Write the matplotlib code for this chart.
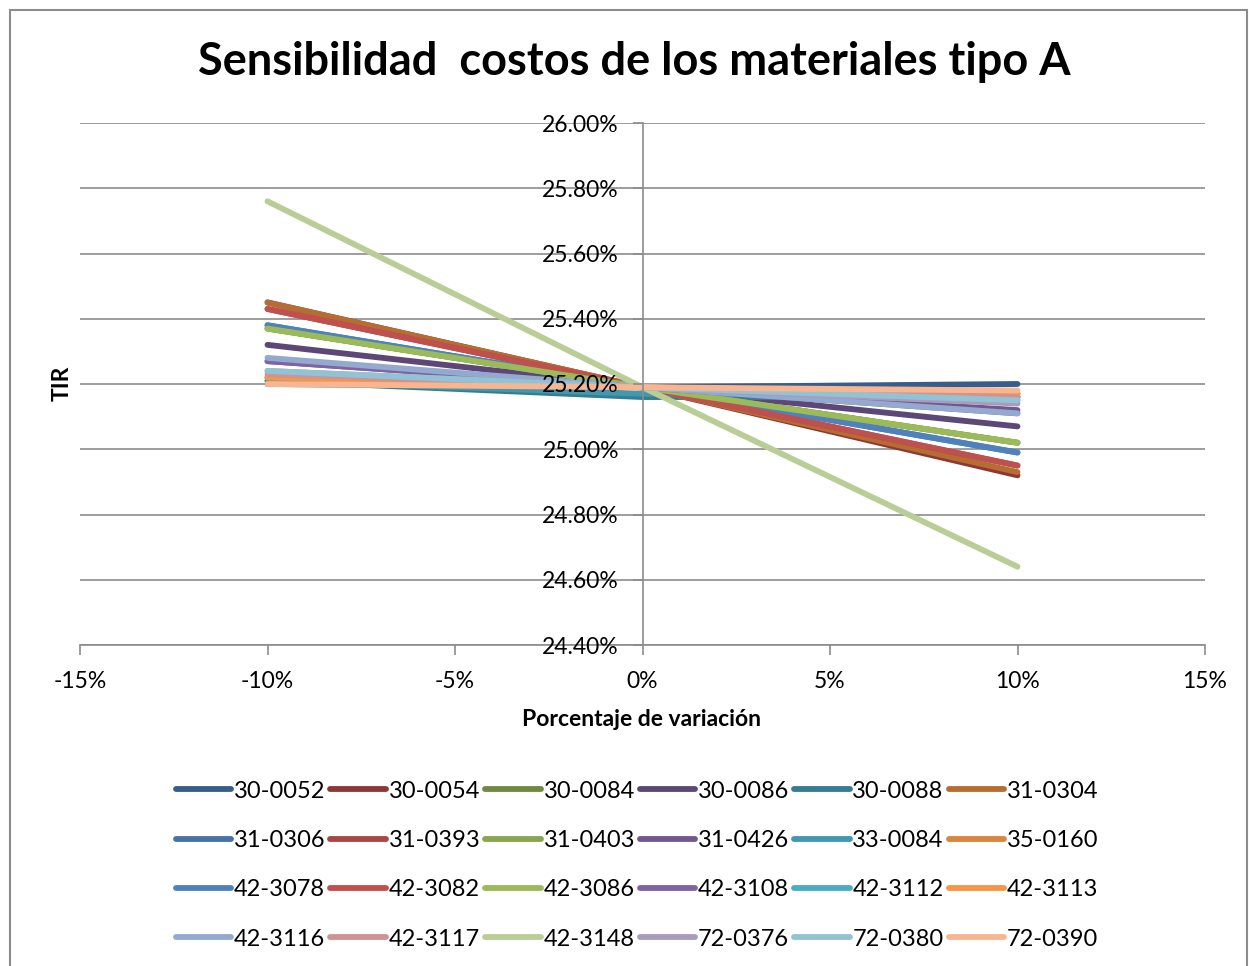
import matplotlib
matplotlib.use("Agg")
import matplotlib.pyplot as plt
from matplotlib.patches import Rectangle
from matplotlib.ticker import FuncFormatter, MultipleLocator

plt.rcParams["font.family"] = ["Lato", "DejaVu Sans"]

# Variation applied to material cost (fraction)
variacion = [-0.10, 0.0, 0.10]

codigos = [
    "30-0052", "30-0054", "30-0084", "30-0086", "30-0088", "31-0304",
    "31-0306", "31-0393", "31-0403", "31-0426", "33-0084", "35-0160",
    "42-3078", "42-3082", "42-3086", "42-3108", "42-3112", "42-3113",
    "42-3116", "42-3117", "42-3148", "72-0376", "72-0380", "72-0390",
]

# TIR (%) at -10%, 0%, +10%
tir = [
    [25.20, 25.19, 25.20],
    [25.45, 25.19, 24.92],
    [25.37, 25.19, 25.02],
    [25.32, 25.19, 25.07],
    [25.21, 25.16, 25.16],
    [25.45, 25.19, 24.93],
    [25.38, 25.19, 24.99],
    [25.43, 25.19, 24.95],
    [25.37, 25.19, 25.02],
    [25.27, 25.19, 25.12],
    [25.21, 25.17, 25.17],
    [25.22, 25.19, 25.15],
    [25.38, 25.19, 24.99],
    [25.43, 25.19, 24.95],
    [25.37, 25.19, 25.02],
    [25.27, 25.19, 25.11],
    [25.22, 25.19, 25.16],
    [25.22, 25.19, 25.17],
    [25.28, 25.19, 25.11],
    [25.23, 25.19, 25.16],
    [25.76, 25.19, 24.64],
    [25.24, 25.19, 25.14],
    [25.24, 25.19, 25.15],
    [25.20, 25.19, 25.18],
]

colores = [
    "#385D8A", "#8C3836", "#71893F", "#5C4776", "#357D91", "#B66D31",
    "#4572A7", "#AA4643", "#89A54E", "#71588F", "#4198AF", "#DB843D",
    "#4F81BD", "#C0504D", "#9BBB59", "#8064A2", "#4BACC6", "#F79646",
    "#93A9CF", "#D19392", "#B9CD96", "#A99BBD", "#91C3D5", "#F9B590",
]

W, H = 1249, 966
fig = plt.figure(figsize=(W / 100, H / 100), dpi=100)
fig.patches.append(Rectangle((10 / W, -0.1), (W - 12) / W, 1.1 - 10 / H,
                             transform=fig.transFigure, fill=False,
                             edgecolor="#8c8c8c", linewidth=1.5))

ax = fig.add_axes([80 / W, 1 - 645 / H, 1125 / W, 522 / H])
ax.set_xlim(-0.15, 0.15)
ax.set_ylim(0.244, 0.26)
ax.xaxis.set_major_locator(MultipleLocator(0.05))
ax.yaxis.set_major_locator(MultipleLocator(0.002))
ax.xaxis.set_major_formatter(FuncFormatter(lambda v, p: f"{v * 100:.0f}%"))
ax.yaxis.set_major_formatter(FuncFormatter(lambda v, p: f"{v * 100:.2f}%"))

# gridlines under the series, axis labels on top of them
for yv in ax.get_yticks()[1:]:
    ax.axhline(yv, color="#8c8c8c", lw=1.2, zorder=1)

lineas = []
for cod, vals, col in zip(codigos, tir, colores):
    (ln,) = ax.plot(variacion, [v / 100 for v in vals], color=col, lw=4.2,
                    solid_capstyle="round", label=cod, zorder=2)
    lineas.append(ln)

for s in ("top", "right"):
    ax.spines[s].set_visible(False)
ax.spines["left"].set_position(("data", 0))
for s in ("left", "bottom"):
    ax.spines[s].set_color("#8c8c8c")
    ax.spines[s].set_linewidth(1.2)
ax.xaxis.set_zorder(3)
ax.yaxis.set_zorder(3)
ax.tick_params(axis="both", colors="#8c8c8c", labelcolor="black",
               labelsize=16.5, direction="out", length=7, width=1.2)
ax.tick_params(axis="x", pad=12)
ax.tick_params(axis="y", pad=10)

fig.text(634 / W, 1 - 62 / H, "Sensibilidad  costos de los materiales tipo A",
         ha="center", va="center", fontsize=32.5, fontweight="bold")
fig.text(642 / W, 1 - 720 / H, "Porcentaje de variación", ha="center",
         va="center", fontsize=16.5, fontweight="bold")
fig.text(62 / W, 1 - 383 / H, "TIR", ha="center", va="center", rotation=90,
         fontsize=16.5, fontweight="bold")

# row-major ordering for the 6-column legend
orden = [r * 6 + c for c in range(6) for r in range(4)]
fig.legend([lineas[i] for i in orden], [codigos[i] for i in orden],
           loc="center", bbox_to_anchor=(637 / W, 1 - 865 / H), ncol=6,
           frameon=False, fontsize=17, handlelength=2.35, handletextpad=0.12,
           columnspacing=0.2, labelspacing=1.2)

fig.savefig("out.png", dpi=100)
